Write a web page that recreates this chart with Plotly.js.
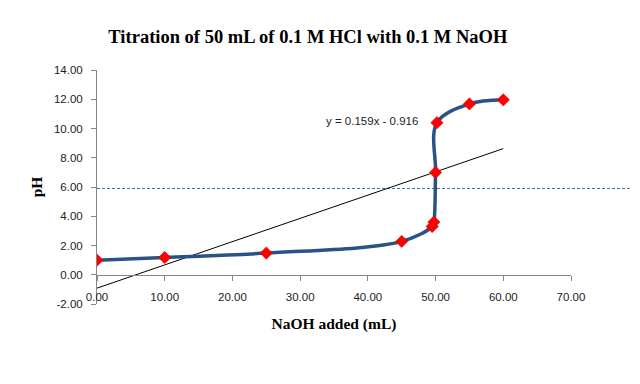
<!DOCTYPE html>
<html>
<head>
<meta charset="utf-8">
<script src="https://cdn.plot.ly/plotly-3.0.1.min.js"></script>
<style>html,body{margin:0;padding:0;background:#fff;}#chart{width:640px;height:384px;}</style>
</head>
<body>
<div id="chart"></div>
<script>
// Data
const naohAdded = [0, 10, 25, 45, 49.5, 49.75, 50, 50.2, 55, 60];
const pH = [1.00, 1.18, 1.48, 2.28, 3.30, 3.60, 7.00, 10.40, 11.68, 11.96];
const trendSlope = 0.159;
const trendIntercept = -0.916;
const trendX = [0, 60];
const refLineY = 5.9;
const xTicks = [0, 10, 20, 30, 40, 50, 60, 70];
const yTicks = [-2, 0, 2, 4, 6, 8, 10, 12, 14];

const trendY = trendX.map(x => trendSlope * x + trendIntercept);

const tickFont = {family: 'Liberation Sans, Arial, sans-serif', size: 11.5, color: '#222'};
const serifBold = 'Liberation Serif, Times New Roman, serif';

const traces = [
  {
    x: trendX, y: trendY, mode: 'lines', type: 'scatter',
    line: {color: '#000000', width: 1}, hoverinfo: 'skip', showlegend: false
  },
  {
    x: naohAdded, y: pH, mode: 'lines+markers', type: 'scatter',
    line: {color: '#2A5287', width: 3.5, shape: 'spline', smoothing: 1},
    marker: {symbol: 'diamond', size: 9.5, color: '#FF0000', line: {color: '#CC0000', width: 0.5}},
    showlegend: false
  }
];

const layout = {
  width: 640, height: 384,
  margin: {l: 97, r: 69, t: 70, b: 80},
  paper_bgcolor: '#ffffff', plot_bgcolor: '#ffffff',
  showlegend: false,
  title: {
    text: '<b>Titration of 50 mL of 0.1 M HCl with 0.1 M NaOH</b>',
    font: {family: serifBold, size: 18.5, color: '#000'},
    x: 0.481, xanchor: 'center', y: 0.905, yanchor: 'middle'
  },
  xaxis: {
    range: [0, 70], tickvals: xTicks,
    ticktext: xTicks.map(v => v.toFixed(2)),
    anchor: 'free', position: 0.125,
    showgrid: false, zeroline: false,
    showline: true, linecolor: '#868686', linewidth: 1,
    ticks: 'outside', ticklen: 5, tickcolor: '#868686',
    ticklabelstandoff: 6,
    tickfont: tickFont,
    title: {text: '<b>NaOH added (mL)</b>', font: {family: serifBold, size: 15.5, color: '#000'}, standoff: 16}
  },
  yaxis: {
    range: [-2, 14], tickvals: yTicks,
    ticktext: yTicks.map(v => v.toFixed(2)),
    showgrid: false, zeroline: false,
    showline: true, linecolor: '#868686', linewidth: 1,
    ticks: 'outside', ticklen: 5, tickcolor: '#868686',
    ticklabelstandoff: 6,
    tickfont: tickFont,
    title: {text: '<b>pH</b>', font: {family: serifBold, size: 15.5, color: '#000'}, standoff: 7}
  },
  shapes: [
    {type: 'line', xref: 'paper', yref: 'y', x0: 0, x1: 1.124, y0: refLineY, y1: refLineY,
     line: {color: '#3A6EA8', width: 1, dash: '3px,2px'}, layer: 'below'}
  ],
  annotations: [
    {xref: 'x', yref: 'y', x: 40.6, y: 10.5, text: 'y = ' + trendSlope + 'x - ' + Math.abs(trendIntercept),
     showarrow: false, font: {family: 'Liberation Sans, Arial, sans-serif', size: 11.5, color: '#222'}}
  ]
};

Plotly.newPlot('chart', traces, layout, {displayModeBar: false, staticPlot: true});
</script>
</body>
</html>
